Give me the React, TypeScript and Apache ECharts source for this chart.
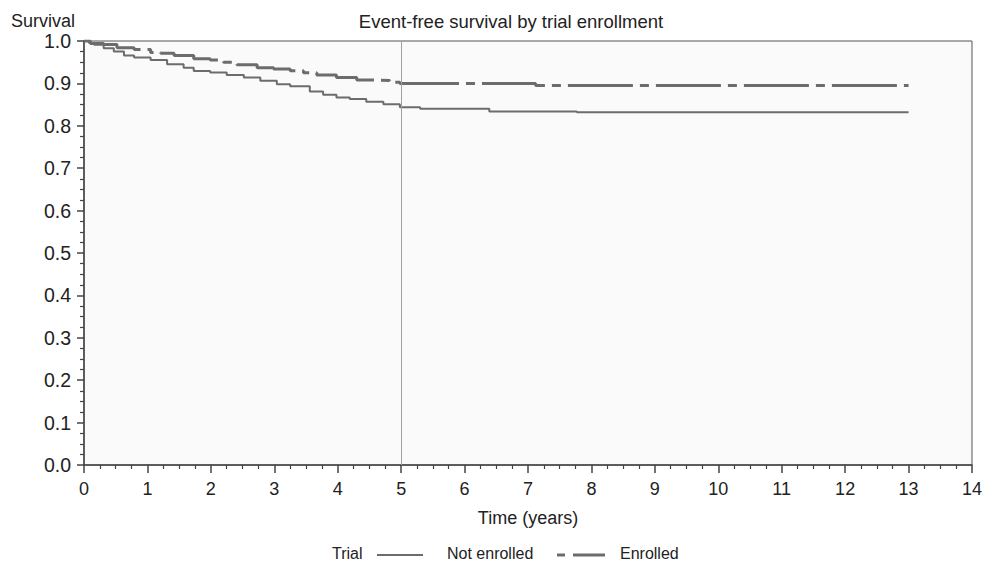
import React, { useEffect, useRef } from "react";
import * as echarts from "echarts";

const notEnrolledTimes = [0, 0.08, 0.16, 0.31, 0.47, 0.63, 0.79, 1.05, 1.31, 1.57, 1.73, 1.99, 2.25, 2.52, 2.78, 3.04, 3.25, 3.56, 3.77, 3.98, 4.19, 4.45, 4.72, 4.98, 5.3, 6.39, 7.77, 13.0];
const notEnrolledSurv = [1.0, 0.995, 0.991, 0.983, 0.975, 0.966, 0.961, 0.955, 0.945, 0.937, 0.929, 0.926, 0.92, 0.914, 0.906, 0.898, 0.893, 0.881, 0.873, 0.867, 0.863, 0.857, 0.851, 0.844, 0.84, 0.834, 0.832, 0.832];

const enrolledTimes = [0, 0.1, 0.31, 0.52, 0.79, 1.05, 1.21, 1.42, 1.73, 1.99, 2.2, 2.41, 2.73, 2.99, 3.25, 3.46, 3.67, 3.98, 4.3, 4.56, 4.82, 4.98, 7.12, 13.0];
const enrolledSurv = [1.0, 0.994, 0.992, 0.984, 0.98, 0.973, 0.971, 0.966, 0.958, 0.955, 0.95, 0.944, 0.937, 0.934, 0.93, 0.925, 0.92, 0.914, 0.908, 0.907, 0.903, 0.9, 0.895, 0.895];

const seriesNames = ["Not enrolled", "Enrolled"];
const legendTitle = "Trial";
const chartTitle = "Event-free survival by trial enrollment";
const yAxisTitle = "Survival";
const xAxisTitle = "Time (years)";
const referenceTime = 5;

const FONT = "'Liberation Sans', Arial, Helvetica, sans-serif";
const CURVE = "#6c6c6c";
const TEXT = "#222";

export default function App() {
  const ref = useRef<HTMLDivElement>(null);
  useEffect(() => {
    if (!ref.current) return;
    const chart = echarts.init(ref.current, null, { renderer: "svg" });
    const ne = notEnrolledTimes.map((t, i) => [t, notEnrolledSurv[i]]);
    const en = enrolledTimes.map((t, i) => [t, enrolledSurv[i]]);
    const legendY = 553;
    chart.setOption({
      animation: false,
      backgroundColor: "#fff",
      textStyle: { fontFamily: FONT },
      grid: {
        left: 84,
        right: 10,
        top: 41,
        bottom: 97,
        show: true,
        backgroundColor: "#fafafa",
        borderColor: "#555",
        borderWidth: 1,
      },
      xAxis: {
        type: "value",
        min: 0,
        max: 14,
        interval: 1,
        name: xAxisTitle,
        nameLocation: "middle",
        nameGap: 44,
        nameTextStyle: { fontSize: 18, color: TEXT, fontFamily: FONT },
        axisLine: { show: true, onZero: false, lineStyle: { color: "#444", width: 1.5 } },
        axisTick: { show: true, length: 8, lineStyle: { color: "#444", width: 1.5 } },
        minorTick: { show: true, splitNumber: 4, length: 4, lineStyle: { color: "#444", width: 1.2 } },
        axisLabel: { fontSize: 18, color: TEXT, margin: 15, fontFamily: FONT },
        splitLine: { show: false },
      },
      yAxis: {
        type: "value",
        min: 0,
        max: 1,
        interval: 0.1,
        axisLine: { show: true, onZero: false, lineStyle: { color: "#444", width: 1.5 } },
        axisTick: { show: true, length: 7, lineStyle: { color: "#444", width: 1.5 } },
        minorTick: { show: true, splitNumber: 4, length: 4, lineStyle: { color: "#444", width: 1.2 } },
        axisLabel: {
          fontSize: 19.5,
          color: TEXT,
          margin: 13,
          fontFamily: FONT,
          formatter: (v: number) => v.toFixed(1),
        },
        splitLine: { show: false },
      },
      graphic: [
        {
          type: "text",
          x: 11,
          y: 21,
          style: { text: yAxisTitle, fontSize: 18, fill: TEXT, fontFamily: FONT, verticalAlign: "middle" },
        },
        {
          type: "text",
          x: 511,
          y: 21,
          style: {
            text: chartTitle,
            fontSize: 18.5,
            fill: TEXT,
            fontFamily: FONT,
            align: "center",
            verticalAlign: "middle",
          },
        },
        {
          type: "text",
          x: 332,
          y: legendY,
          style: { text: legendTitle, fontSize: 16, fill: TEXT, fontFamily: FONT, verticalAlign: "middle" },
        },
        {
          type: "line",
          shape: { x1: 377, y1: legendY + 2, x2: 423, y2: legendY + 2 },
          style: { stroke: CURVE, lineWidth: 2 },
        },
        {
          type: "text",
          x: 447,
          y: legendY,
          style: { text: seriesNames[0], fontSize: 16, fill: TEXT, fontFamily: FONT, verticalAlign: "middle" },
        },
        {
          type: "line",
          shape: { x1: 557, y1: legendY + 2, x2: 565, y2: legendY + 2 },
          style: { stroke: CURVE, lineWidth: 3 },
        },
        {
          type: "line",
          shape: { x1: 573, y1: legendY + 2, x2: 605, y2: legendY + 2 },
          style: { stroke: CURVE, lineWidth: 3 },
        },
        {
          type: "text",
          x: 620,
          y: legendY,
          style: { text: seriesNames[1], fontSize: 16, fill: TEXT, fontFamily: FONT, verticalAlign: "middle" },
        },
      ],
      series: [
        {
          name: seriesNames[0],
          type: "line",
          step: "end",
          data: ne,
          symbol: "none",
          lineStyle: { color: CURVE, width: 2 },
          z: 3,
          markLine: {
            silent: true,
            symbol: "none",
            label: { show: false },
            lineStyle: { color: "#a0a0a0", width: 1, type: "solid" },
            data: [{ xAxis: referenceTime }],
          },
        },
        {
          name: seriesNames[1],
          type: "line",
          step: "end",
          data: en,
          symbol: "none",
          lineStyle: { color: CURVE, width: 3, type: [65, 7, 9, 7] },
          z: 3,
        },
      ],
    });
    return () => chart.dispose();
  }, []);
  return (
    <div
      ref={ref}
      style={{ position: "absolute", left: 0, top: 0, width: 985, height: 562 }}
    />
  );
}
